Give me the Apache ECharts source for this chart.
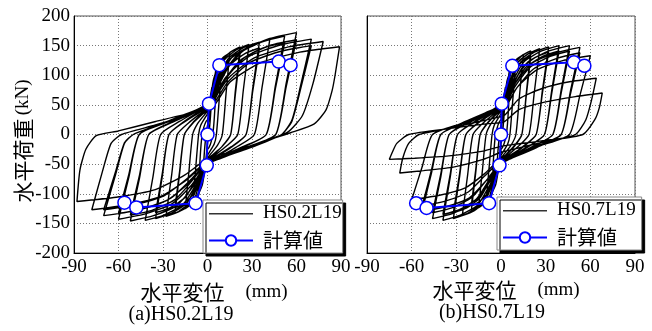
<!DOCTYPE html>
<html><head><meta charset="utf-8">
<script src="https://cdn.jsdelivr.net/npm/echarts@6/dist/echarts.min.js"></script>
<style>html,body{margin:0;padding:0;background:#fff}#c{width:652px;height:331px}</style>
</head><body><div id="c"></div>
<script>
const xTicks = [-90, -60, -30, 0, 30, 60, 90];
const yTicks = [-200, -150, -100, -50, 0, 50, 100, 150, 200];
const specimenA = 'HS0.2L19';
const specimenB = 'HS0.7L19';
const calcName = '計算値';
const panelTitles = ['(a)HS0.2L19', '(b)HS0.7L19'];

// (a) HS0.2L19 hysteresis loops [displacement mm, load kN]
const a01 = [[0,0],[1,40],[2,65],[3,80],[2.5,50],[1.5,15],[0,-15],[-1,-40],[-2,-62],[-3,-75],[-2.5,-45],[-1.5,-12],[0,15]];
const a02 = [[1,25],[2.5,65],[4,92],[6,108],[5.2,55],[4,10],[2.5,-12],[1,-22],[0,-25],[-1.5,-55],[-3.5,-85],[-6,-100],[-5.2,-50],[-4,-8],[-2.5,12],[-1,22],[0,25]];
const a03 = [[1,35],[3.5,75],[6,105],[8,118],[10,125],[8,62],[6,0],[4.5,-16],[1.2,-30],[0,-35],[-3.5,-70],[-6,-98],[-8,-109],[-10,-116],[-8,-58],[-6,0],[-4.5,16],[-1.2,30],[0,35]];
const a04 = [[1,40],[4.2,83],[6,113],[10.5,130],[15,138],[12.5,69],[10,0],[6.8,-18],[1.8,-34],[0,-40],[-4.2,-75],[-6,-102],[-10.5,-117],[-15,-125],[-12.5,-62],[-10,0],[-6.8,18],[-1.8,34],[0,40]];
const a05 = [[1,45],[5.3,89],[8.8,121],[15.4,139],[22,148],[18.8,74],[15.6,0],[9.9,-20],[2.6,-38],[0,-45],[-5.3,-80],[-8.8,-109],[-15.4,-125],[-22,-133],[-18.8,-66],[-15.6,0],[-9.9,20],[-2.6,38],[0,45]];
const a05r = [[1,42],[5.8,80],[9.5,110],[16,129],[22,138],[18.8,68],[15.6,0],[9.9,-20],[2.6,-36],[0,-42],[-5.8,-72],[-9.5,-100],[-16,-116],[-22,-124],[-18.8,-62],[-15.6,0],[-9.9,19],[-2.6,36],[0,42]];
const a06 = [[1,45],[6.2,91],[11.2,125],[19.6,143],[28,152],[24.2,76],[20.4,0],[12.6,-20],[3.4,-38],[0,-45],[-6.2,-83],[-11.2,-113],[-19.6,-130],[-28,-138],[-24.2,-69],[-20.4,0],[-12.6,20],[-3.4,38],[0,45]];
const a07 = [[1,48],[7.2,94],[14,128],[24.5,147],[35,156],[30.5,78],[26,0],[15.8,-22],[4.2,-41],[0,-48],[-7.2,-85],[-14,-116],[-24.5,-133],[-35,-142],[-30.5,-71],[-26,0],[-15.8,22],[-4.2,41],[0,48]];
const a07r = [[1,45],[8,85],[15,117],[25.5,137],[35,146],[30.5,73],[26,0],[15.8,-21],[4.2,-39],[0,-45],[-8,-77],[-15,-106],[-25.5,-124],[-35,-132],[-30.5,-66],[-26,0],[-15.8,21],[-4.2,39],[0,45]];
const a08 = [[1,50],[8.3,96],[16.8,131],[29.4,150],[42,160],[36.8,80],[31.6,0],[18.9,-22],[5,-42],[0,-50],[-8.3,-87],[-16.8,-119],[-29.4,-136],[-42,-145],[-36.8,-72],[-31.6,0],[-18.9,22],[-5,42],[0,50]];
const a09 = [[1,50],[9.8,100],[20.8,136],[36.4,156],[52,166],[45.8,83],[39.6,0],[23.4,-22],[6.2,-42],[0,-50],[-9.8,-88],[-20.8,-120],[-36.4,-137],[-52,-146],[-45.8,-73],[-39.6,0],[-23.4,22],[-6.2,42],[0,50]];
const a09r = [[1,46],[11,90],[22,125],[37.5,146],[52,155],[45.8,78],[39.6,0],[23.4,-21],[6.2,-40],[0,-46],[-11,-80],[-22,-110],[-37.5,-128],[-52,-136],[-45.8,-68],[-39.6,0],[-23.4,21],[-6.2,40],[0,46]];
const a10 = [[1,50],[11,103],[24,141],[42,162],[60,172],[53,86],[46,0],[27,-22],[7.2,-42],[0,-50],[-11,-86],[-24,-117],[-42,-134],[-60,-143],[-53,-72],[-46,0],[-27,22],[-7.2,42],[0,50]];
const a10r = [[1,46],[12,93],[25,130],[43,151],[60,160],[53,80],[46,0],[27,-21],[7.2,-40],[0,-46],[-12,-78],[-25,-108],[-43,-125],[-60,-133],[-53,-67],[-46,0],[-27,21],[-7.2,40],[0,46]];
const a11 = [[1,48],[12.5,97],[28,132],[49,151],[70,161],[63,85],[57,25],[50,0],[31.5,-20],[8.4,-40],[0,-48],[-12.5,-82],[-28,-112],[-49,-129],[-70,-137],[-62,-68],[-56,-15],[-50,0],[-31.5,18],[-8.4,40],[0,48]];
const a11r = [[1,44],[13.5,88],[29,122],[50,141],[70,150],[63,79],[57,23],[50,0],[31.5,-19],[8.4,-38],[0,-44],[-13.5,-74],[-29,-103],[-50,-119],[-70,-127],[-62,-63],[-56,-14],[-50,0],[-31.5,17],[-8.4,38],[0,44]];
const a12 = [[1,45],[13.7,94],[31.2,129],[54.6,148],[78,157],[71,85],[64,32],[54,4],[35.1,-14],[9.4,-36],[0,-45],[-13.7,-76],[-31.2,-104],[-54.6,-119],[-78,-127],[-71,-64],[-65,-15],[-58,0],[-35.1,16],[-9.4,36],[0,45]];
const a13 = [[1,40],[15.4,89],[35.6,121],[62.3,139],[89,148],[86,100],[84,74],[80,42],[72,18],[56,3],[40,-10],[18,-28],[4,-37],[0,-40],[-15.2,-68],[-35.2,-93],[-61.6,-106],[-88,-113],[-86,-60],[-82,-25],[-75,-2],[-60,6],[-35,22],[-10,37],[0,40]];

// (b) HS0.7L19 hysteresis loops
const b01 = [[0,0],[1,40],[2,65],[3,80],[2.5,50],[1.5,15],[0,-15],[-1,-40],[-2,-60],[-3,-72],[-2.5,-45],[-1.5,-12],[0,15]];
const b02 = [[1,25],[2.5,62],[4,90],[6,105],[5.2,52],[4,8],[2.5,-12],[1,-22],[0,-25],[-1.5,-55],[-3.5,-84],[-6,-98],[-5.2,-48],[-4,-6],[-2.5,12],[-1,22],[0,25]];
const b03 = [[1,35],[3.5,73],[6,103],[8,115],[10,122],[8,61],[6,0],[4.5,-16],[1.2,-30],[0,-35],[-3.5,-67],[-6,-94],[-8,-106],[-10,-112],[-8,-56],[-6,0],[-4.5,16],[-1.2,30],[0,35]];
const b04 = [[1,40],[4.2,81],[6,111],[10.5,127],[15,135],[12.5,68],[10,0],[6.8,-18],[1.8,-34],[0,-40],[-4.2,-73],[-6,-100],[-10.5,-115],[-15,-122],[-12.5,-61],[-10,0],[-6.8,18],[-1.8,34],[0,40]];
const b05 = [[1,45],[5,85],[8,116],[14,133],[20,141],[17,70],[14,0],[9,-20],[2.4,-38],[0,-45],[-5,-78],[-8,-107],[-14,-122],[-20,-130],[-17,-65],[-14,0],[-9,20],[-2.4,38],[0,45]];
const b05r = [[1,42],[5.5,77],[8.8,106],[14.5,124],[20,132],[17,66],[14,0],[9,-19],[2.4,-36],[0,-42],[-5.5,-70],[-8.8,-98],[-14.5,-113],[-20,-121],[-17,-60],[-14,0],[-9,19],[-2.4,36],[0,42]];
const b06 = [[1,45],[5.9,87],[10.4,119],[18.2,136],[26,145],[22.4,72],[18.8,0],[11.7,-20],[3.1,-38],[0,-45],[-5.9,-82],[-10.4,-112],[-18.2,-129],[-26,-137],[-22.4,-68],[-18.8,0],[-11.7,20],[-3.1,38],[0,45]];
const b07 = [[1,48],[6.8,89],[12.8,121],[22.4,139],[32,148],[27.8,74],[23.6,0],[14.4,-22],[3.8,-41],[0,-48],[-6.8,-85],[-12.8,-116],[-22.4,-133],[-32,-142],[-27.8,-71],[-23.6,0],[-14.4,22],[-3.8,41],[0,48]];
const b07r = [[1,45],[7.5,80],[13.8,111],[23,130],[32,139],[27.8,70],[23.6,0],[14.4,-21],[3.8,-39],[0,-45],[-7.5,-77],[-13.8,-106],[-23,-124],[-32,-132],[-27.8,-66],[-23.6,0],[-14.4,21],[-3.8,39],[0,45]];
const b08 = [[1,50],[7.9,90],[15.6,123],[27.3,141],[39,150],[34.1,75],[29.2,0],[17.6,-22],[4.7,-42],[0,-50],[-7.9,-87],[-15.6,-119],[-27.3,-136],[-39,-145],[-34.1,-72],[-29.2,0],[-17.6,22],[-4.7,42],[0,50]];
const b08r = [[1,46],[8.6,82],[16.5,113],[28,132],[39,141],[34.1,70],[29.2,0],[17.6,-21],[4.7,-40],[0,-46],[-8.6,-79],[-16.5,-109],[-28,-127],[-39,-135],[-34.1,-67],[-29.2,0],[-17.6,21],[-4.7,40],[0,46]];
const b09 = [[1,50],[8.9,90],[18.4,123],[32.2,141],[46,150],[40.4,75],[34.8,0],[20.7,-22],[5.5,-42],[0,-50],[-8.9,-85],[-18.4,-116],[-32.2,-133],[-46,-142],[-40.4,-71],[-34.8,0],[-20.7,22],[-5.5,42],[0,50]];
const b09r = [[1,46],[9.7,82],[19.4,113],[33,132],[46,141],[40.4,70],[34.8,0],[20.7,-21],[5.5,-40],[0,-46],[-9.7,-77],[-19.4,-106],[-33,-124],[-46,-132],[-40.4,-66],[-34.8,0],[-20.7,21],[-5.5,40],[0,46]];
const b10 = [[1,48],[10,88],[21.2,121],[37.1,138],[53,147],[46.7,74],[40.4,0],[23.9,-22],[6.4,-41],[0,-48],[-10,-78],[-21.2,-107],[-37.1,-122],[-53,-130],[-46.7,-65],[-40.4,0],[-23.9,22],[-6.4,41],[0,48]];
const b10r = [[1,44],[11,80],[22,111],[38,129],[53,138],[46.7,69],[40.4,0],[23.9,-20],[6.4,-38],[0,-44],[-11,-70],[-22,-97],[-38,-113],[-53,-121],[-46.7,-60],[-40.4,0],[-23.9,20],[-6.4,38],[0,44]];
const b11 = [[1,40],[11,80],[24,109],[42,125],[60,133],[53,66],[46,0],[27,-18],[7.2,-34],[0,-40],[-11,-66],[-24,-90],[-42,-103],[-60,-110],[-53,-55],[-46,0],[-27,18],[-7.2,34],[0,40]];
const b11b = [[1,30],[12,60],[28,78],[46,89],[64,95],[61,60],[57,25],[50,0],[28,-13],[8,-25],[0,-30],[-12,-42],[-32,-55],[-52,-61],[-68,-65],[-66,-40],[-62,-15],[-55,0],[-32,12],[-9,25],[0,30]];
const b12 = [[1,20],[12,42],[30,55],[50,64],[68,70],[66,45],[63,25],[55,0],[30,-10],[8,-17],[0,-20],[-12,-28],[-35,-36],[-58,-40],[-75,-42],[-73,-30],[-70,-15],[-62,0],[-35,10],[-10,18],[0,20]];

// calculated skeleton curves
const calcA = [[-56,-115],[-48,-123],[-8,-116],[-0.5,-52],[0,0],[1,52],[8,117],[48,123],[56,117]];
const calcB = [[-57,-116],[-50,-124],[-8,-116],[-1,-52],[0,0],[0.5,52],[7.6,116],[49,122],[56,116]];

const histA = [].concat(a01,a02,a03,a04,a05,a05r,a06,a07,a07r,a08,a09,a09r,a10,a10r,a11,a11r,a12,a13);
const histB = [].concat(b01,b02,b03,b04,b05,b05r,b06,b07,b07r,b08,b08r,b09,b09r,b10,b10r,b11,b11b,b12);

const SERIF = 'Liberation Serif';
const CJK = 'Noto Sans CJK JP';
const BLUE = '#0000ff';
const LINE_ICON = 'path://M0,0 M44,13 M0,6 L44,6 L44,7.4 L0,7.4 Z';

function xAxisCfg(idx) {
  return {
    type: 'value', gridIndex: idx, min: xTicks[0], max: xTicks[xTicks.length-1], interval: 30,
    axisLine: {show: true, onZero: false, lineStyle: {color: '#000', width: 1}},
    axisTick: {show: false},
    axisLabel: {color: '#000', fontFamily: SERIF, fontSize: 19, margin: 5},
    splitLine: {show: true, lineStyle: {color: '#777', type: [1, 2], width: 1}}
  };
}
function yAxisCfg(idx, labels) {
  return {
    type: 'value', gridIndex: idx, min: yTicks[0], max: yTicks[yTicks.length-1], interval: 50,
    axisLine: {show: true, onZero: false, lineStyle: {color: '#000', width: 1}},
    axisTick: {show: false},
    axisLabel: {show: labels, color: '#000', fontFamily: SERIF, fontSize: 19, margin: 4},
    splitLine: {show: true, lineStyle: {color: '#777', type: [1, 2], width: 1}}
  };
}
function legendCfg(names, left, top, padR) {
  return {
    orient: 'vertical', left: left, top: top, selectedMode: false,
    data: [
      {name: names[0], icon: LINE_ICON, itemStyle: {color: '#333'}, textStyle: {fontFamily: SERIF, fontSize: 19}},
      {name: names[1], textStyle: {fontFamily: CJK, fontSize: 20}}
    ],
    itemWidth: 44, itemHeight: 13, itemGap: 6,
    padding: [3, padR, 2, 5],
    textStyle: {color: '#000', fontFamily: SERIF, fontSize: 19, lineHeight: 21, padding: [0, 0, 0, 5]},
    backgroundColor: '#fff', borderColor: '#888', borderWidth: 1,
    shadowColor: '#000', shadowBlur: 0, shadowOffsetX: 3, shadowOffsetY: 3
  };
}
function histSeries(name, idx, data) {
  return {
    name: name, type: 'line', xAxisIndex: idx, yAxisIndex: idx, data: data,
    symbol: 'none', smooth: 0.2, animation: false, z: 2,
    lineStyle: {color: '#000', width: 1.4}, itemStyle: {color: '#000'}
  };
}
function calcSeries(idx, data) {
  return {
    name: calcName, type: 'line', xAxisIndex: idx, yAxisIndex: idx, data: data,
    symbol: 'circle', symbolSize: 13, animation: false, z: 4,
    lineStyle: {color: BLUE, width: 2},
    itemStyle: {color: '#fff', borderColor: BLUE, borderWidth: 1.5}
  };
}
function titleText(x, y, text, rot) {
  return {type: 'text', x: x, y: y, rotation: rot || 0,
    style: {text: text, align: 'center', verticalAlign: 'middle', fill: '#000',
      rich: {c: {fontFamily: CJK, fontSize: 21, fill: '#000'}, l: {fontFamily: SERIF, fontSize: 19, fill: '#000'}}}};
}

const chart = echarts.init(document.getElementById('c'), null, {renderer: 'canvas'});
chart.setOption({
  animation: false,
  backgroundColor: '#fff',
  grid: [
    {left: 74, top: 16, width: 267, height: 237, show: true, borderColor: '#555', borderWidth: 1},
    {left: 367, top: 16, width: 268, height: 237, show: true, borderColor: '#555', borderWidth: 1}
  ],
  xAxis: [xAxisCfg(0), xAxisCfg(1)],
  yAxis: [yAxisCfg(0, true), yAxisCfg(1, false)],
  legend: [legendCfg([specimenA, calcName], 203, 200, 1), legendCfg([specimenB, calcName], 497, 197, 6)],
  series: [histSeries(specimenA, 0, histA), calcSeries(0, calcA), histSeries(specimenB, 1, histB), calcSeries(1, calcB)],
  graphic: [
    titleText(23, 141, '{c|水平荷重} {l|(kN)}', Math.PI / 2),
    titleText(214, 292, '{c|水平変位　}{l|(mm)}'),
    titleText(506, 290, '{c|水平変位　}{l|(mm)}'),
    {type: 'text', x: 181, y: 315, style: {text: panelTitles[0], align: 'center', verticalAlign: 'middle', font: '20px "Liberation Serif"', fill: '#000'}},
    {type: 'text', x: 492, y: 313, style: {text: panelTitles[1], align: 'center', verticalAlign: 'middle', font: '20px "Liberation Serif"', fill: '#000'}}
  ]
});
</script></body></html>
